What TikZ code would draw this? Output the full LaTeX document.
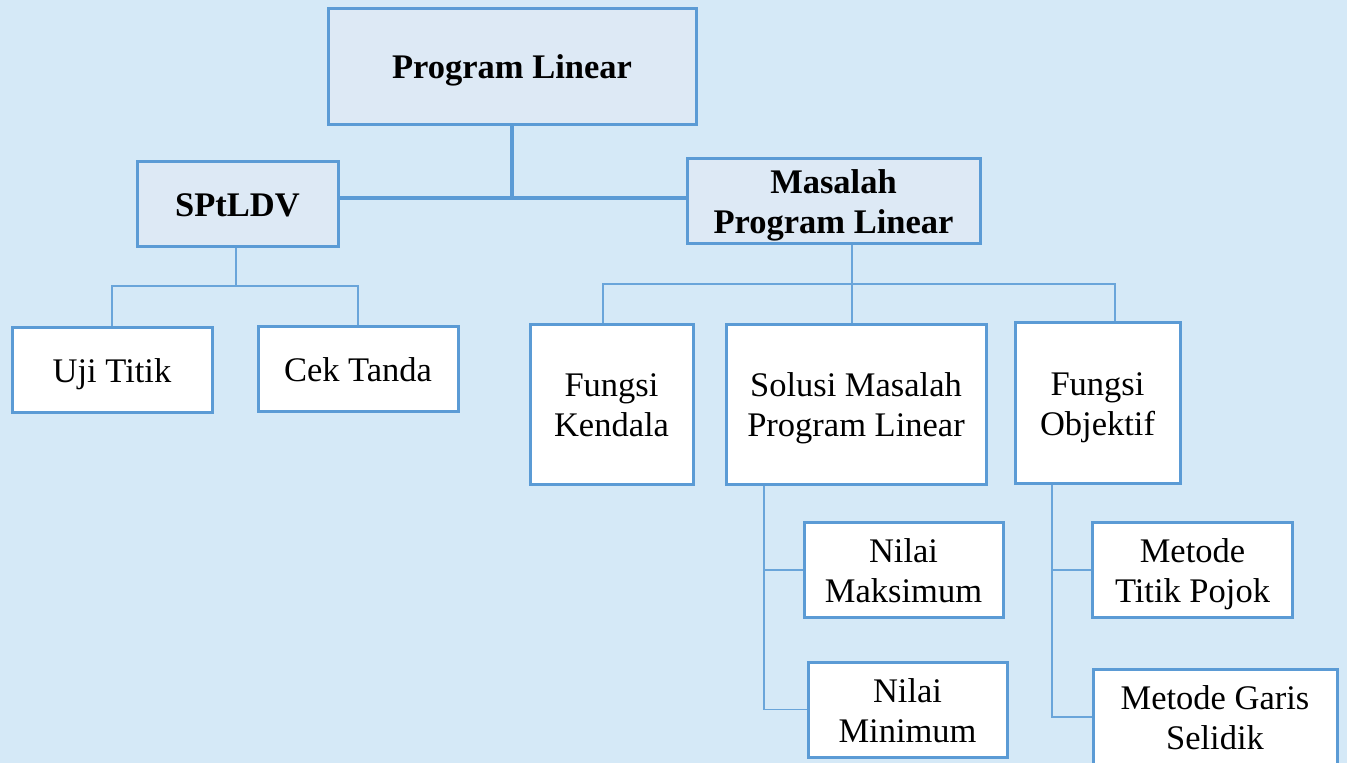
\documentclass[tikz,border=0pt]{standalone}
\usepackage{fontspec}
\setmainfont{Liberation Serif}
\definecolor{bgc}{HTML}{D5E9F7}
\definecolor{topfill}{HTML}{DDE9F5}
\definecolor{bordc}{HTML}{5B9BD5}
\definecolor{linec}{HTML}{6AA5DA}
\newcommand{\tstr}{\rule{0pt}{34.8pt}}
\newcommand{\bstr}{\rule[-9pt]{0pt}{0pt}}
\tikzset{
  box/.style={draw=bordc, line width=3pt, inner sep=0pt, align=center,
    font=\fontsize{34.5}{40}\selectfont},
  topbox/.style={box, fill=topfill, font=\fontsize{34.5}{40}\selectfont\bfseries},
  lowbox/.style={box, fill=white},
  thickconn/.style={draw=bordc, line width=4pt},
  thinconn/.style={draw=linec, line width=1.6pt},
}
\begin{document}
\begin{tikzpicture}[x=1pt,y=-1pt]
\fill[bgc] (0,0) rectangle (1347,763);
\useasboundingbox (0,0) rectangle (1347,763);
\begin{scope}
\clip (0,0) rectangle (1347,763);
% top level
\node[topbox, minimum width=368pt, minimum height=116pt] (pl) at (512,66) {\tstr Program Linear\bstr};
\node[topbox, minimum width=201pt, minimum height=85pt] (sp) at (237.5,203.5) {\tstr SPtLDV\bstr};
\node[topbox, minimum width=293pt, minimum height=85pt] (mpl) at (833.5,200.5) {\tstr Masalah\\Program Linear\bstr};
% second level
\node[lowbox, minimum width=200pt, minimum height=85pt] (uji) at (112,369.5) {\tstr Uji Titik\bstr};
\node[lowbox, minimum width=200pt, minimum height=85pt] (cek) at (358,368.5) {\tstr Cek Tanda\bstr};
\node[lowbox, minimum width=163pt, minimum height=160pt] (fk) at (611.5,404) {\tstr Fungsi\\Kendala\bstr};
\node[lowbox, minimum width=260pt, minimum height=160pt] (sol) at (856,404) {\tstr Solusi Masalah\\Program Linear\bstr};
\node[lowbox, minimum width=165pt, minimum height=161pt] (fo) at (1097.5,402.5) {\tstr Fungsi\\Objektif\bstr};
% third level
\node[lowbox, minimum width=199pt, minimum height=95pt] (nmax) at (903.5,570) {\tstr Nilai\\Maksimum\bstr};
\node[lowbox, minimum width=199pt, minimum height=95pt] (nmin) at (907.5,709.5) {\tstr Nilai\\Minimum\bstr};
\node[lowbox, minimum width=200pt, minimum height=95pt] (mtp) at (1192.5,570) {\tstr Metode\\Titik Pojok\bstr};
\node[lowbox, minimum width=244pt, minimum height=96pt] (mgs) at (1215,717) {\tstr Metode Garis\\Selidik\bstr};
% junction coordinates
\coordinate (j1) at (512,198);
\coordinate (jsp) at (236,286);
\coordinate (m1) at (852,284);
\coordinate (k1) at (603,284);
\coordinate (k3) at (1115,284);
\coordinate (s1) at (764,709.5);
\coordinate (o1) at (1052,717);
% thick connectors
\draw[thickconn] (pl.south -| j1) -- (j1);
\draw[thickconn] (sp.east |- j1) -- (mpl.west |- j1);
% SPtLDV branch
\draw[thinconn] (sp.south -| jsp) -- (jsp);
\draw[thinconn] (uji.north) -- (uji.north |- jsp) -- (cek.north |- jsp) -- (cek.north);
% Masalah branch
\draw[thinconn] (mpl.south -| m1) -- (m1);
\draw[thinconn] (fk.north -| k1) -- (k1) -- (k3) -- (fo.north -| k3);
\draw[thinconn] (m1) -- (sol.north -| m1);
% Solusi branch
\draw[thinconn] (sol.south -| s1) -- (s1) -- (nmin.west);
\draw[thinconn] (s1 |- nmax.west) -- (nmax.west);
% Objektif branch
\draw[thinconn] (fo.south -| o1) -- (o1) -- (mgs.west |- o1);
\draw[thinconn] (o1 |- mtp.west) -- (mtp.west);
\end{scope}
\end{tikzpicture}
\end{document}
